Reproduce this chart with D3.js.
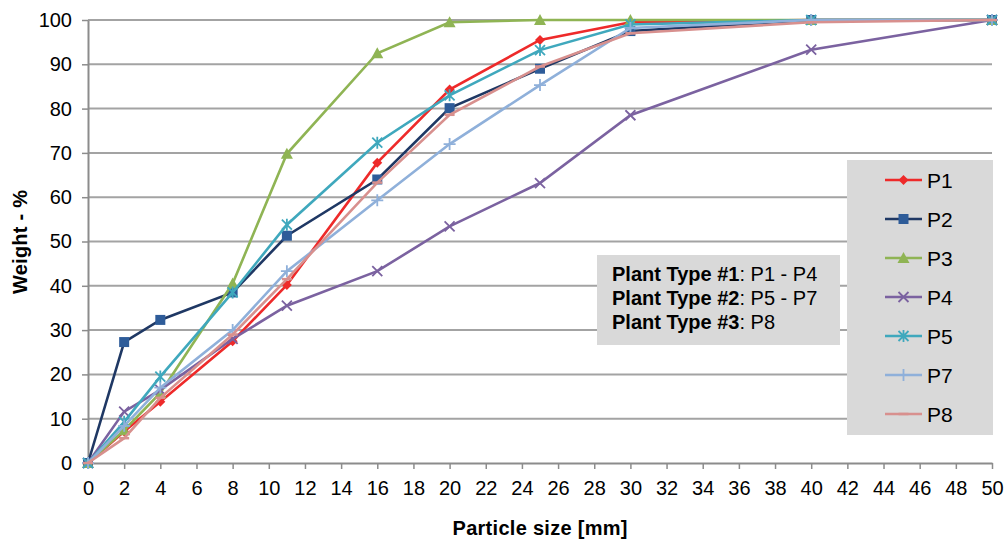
<!doctype html>
<html>
<head>
<style type="text/css">
body { margin: 0; background: white; }
text { font-family: "Liberation Sans", Arial, sans-serif; fill: black; }
.axis-title { font-size: 20px; font-weight: bold; }
</style>
</head>
<body>
<svg width="1006" height="543"></svg>
<script src="https://d3js.org/d3.v7.min.js"></script>
<script>
var sizes = [0, 2, 4, 8, 11, 16, 20, 25, 30, 40, 50];
var names = ["P1", "P2", "P3", "P4", "P5", "P7", "P8"];
var p1 = [0, 7.1, 13.8, 27.5, 40.2, 67.8, 84.3, 95.5, 99.5, 100, 100];
var p2 = [0, 27.3, 32.3, 38.5, 51.3, 64, 80.1, 89, 97.5, 100, 100];
var p3 = [0, 7.4, 15.8, 40.5, 69.8, 92.5, 99.5, 100, 100, 100, 100];
var p4 = [0, 11.6, 16.5, 28, 35.5, 43.3, 53.4, 63.2, 78.5, 93.3, 100];
var p5 = [0, 9.3, 19.5, 38.5, 53.8, 72.3, 83, 93.2, 99, 100, 100];
var p7 = [0, 8.4, 17, 30, 43.3, 59.3, 72, 85.3, 98.2, 100, 100];
var p8 = [0, 5.6, 14.7, 29, 41.5, 63.3, 78.6, 89.5, 97, 99.5, 100];
var seriesValues = [p1, p2, p3, p4, p5, p7, p8];
var xTicks = d3.range(0, 51, 2);
var yTicks = d3.range(0, 101, 10);
var notes = [["Plant Type #1", ": P1 - P4"], ["Plant Type #2", ": P5 - P7"], ["Plant Type #3", ": P8"]];

var lineColors = ["#ee2a2a", "#1f3864", "#8fb454", "#7b62a0", "#3fa8bd", "#8fb0da", "#d8908e"];
var markColors = ["#ee2a2a", "#2e5c99", "#8fb454", "#7b62a0", "#3fa8bd", "#8fb0da", "#d8908e"];
var shapes = ["diamond", "square", "triangle", "x", "star", "plus", "dash"];

var svg = d3.select("svg");
var x = d3.scaleLinear().domain([0, 50]).range([88, 992]);
var y = d3.scaleLinear().domain([0, 100]).range([463, 20]);

// grid
svg.append("g").selectAll("line").data(yTicks.slice(1)).enter().append("line")
  .attr("x1", x(0)).attr("x2", x(50))
  .attr("y1", function(d) { return y(d); }).attr("y2", function(d) { return y(d); })
  .attr("stroke", "#a3a3a3").attr("stroke-width", 2);

var xAxis = svg.append("g").attr("transform", "translate(0," + y(0) + ")")
  .call(d3.axisBottom(x).tickValues(xTicks).tickSize(6).tickPadding(12).tickSizeOuter(0));
var yAxis = svg.append("g").attr("transform", "translate(" + x(0) + ",0)")
  .call(d3.axisLeft(y).tickValues(yTicks).tickSize(6).tickPadding(10).tickSizeOuter(0));
[xAxis, yAxis].forEach(function(a) {
  a.select(".domain").attr("stroke", "#8c8c8c").attr("stroke-width", 2);
  a.selectAll(".tick line").attr("stroke", "#8c8c8c").attr("stroke-width", 1.5);
  a.selectAll(".tick text").attr("fill", "#111").style("font-family", "Liberation Sans, Arial, sans-serif").style("font-size", "20px");
});

svg.append("text").attr("class", "axis-title").attr("x", 540).attr("y", 535)
  .attr("text-anchor", "middle").attr("textLength", 175).text("Particle size [mm]");
svg.append("text").attr("class", "axis-title").attr("transform", "translate(27,242) rotate(-90)")
  .attr("text-anchor", "middle").attr("textLength", 104).text("Weight - %");

function drawMarker(g, shape, color, cx, cy) {
  var s = 5;
  if (shape === "diamond") {
    g.append("path").attr("d", "M" + cx + "," + (cy - s) + "L" + (cx + s) + "," + cy + "L" + cx + "," + (cy + s) + "L" + (cx - s) + "," + cy + "Z").attr("fill", color);
  } else if (shape === "square") {
    g.append("rect").attr("x", cx - s).attr("y", cy - s).attr("width", 2 * s).attr("height", 2 * s).attr("fill", color);
  } else if (shape === "triangle") {
    g.append("path").attr("d", "M" + cx + "," + (cy - s - 1) + "L" + (cx + s + 1) + "," + (cy + s) + "L" + (cx - s - 1) + "," + (cy + s) + "Z").attr("fill", color);
  } else if (shape === "x") {
    g.append("path").attr("d", "M" + (cx - s) + "," + (cy - s) + "L" + (cx + s) + "," + (cy + s) + "M" + (cx + s) + "," + (cy - s) + "L" + (cx - s) + "," + (cy + s)).attr("stroke", color).attr("stroke-width", 1.8);
  } else if (shape === "star") {
    g.append("path").attr("d", "M" + (cx - s) + "," + (cy - s) + "L" + (cx + s) + "," + (cy + s) + "M" + (cx + s) + "," + (cy - s) + "L" + (cx - s) + "," + (cy + s) + "M" + cx + "," + (cy - s - 1) + "L" + cx + "," + (cy + s + 1)).attr("stroke", color).attr("stroke-width", 1.8);
  } else if (shape === "plus") {
    g.append("path").attr("d", "M" + cx + "," + (cy - s - 1) + "L" + cx + "," + (cy + s + 1) + "M" + (cx - s - 1) + "," + cy + "L" + (cx + s + 1) + "," + cy).attr("stroke", color).attr("stroke-width", 1.8);
  } else {
    g.append("path").attr("d", "M" + (cx - s) + "," + cy + "L" + (cx + s) + "," + cy).attr("stroke", color).attr("stroke-width", 2.5);
  }
}

var line = d3.line().x(function(d, i) { return x(sizes[i]); }).y(function(d) { return y(d); });
seriesValues.forEach(function(vals, k) {
  var g = svg.append("g");
  g.append("path").datum(vals).attr("d", line).attr("fill", "none")
    .attr("stroke", lineColors[k]).attr("stroke-width", 2.6);
  vals.forEach(function(v, i) { drawMarker(g, shapes[k], markColors[k], x(sizes[i]), y(v)); });
});

// annotation box
var ann = svg.append("g");
ann.append("rect").attr("x", 597).attr("y", 255).attr("width", 243).attr("height", 90).attr("fill", "#d9d9d9");
notes.forEach(function(n, i) {
  var t = ann.append("text").attr("x", 612).attr("y", 281 + i * 24).style("font-size", "20px");
  t.append("tspan").style("font-weight", "bold").text(n[0]);
  t.append("tspan").text(n[1]);
});

// legend
var leg = svg.append("g");
leg.append("rect").attr("x", 847).attr("y", 160).attr("width", 146).attr("height", 275).attr("fill", "#d9d9d9");
names.forEach(function(nm, k) {
  var cy = 180 + k * 39;
  leg.append("line").attr("x1", 885).attr("x2", 922).attr("y1", cy).attr("y2", cy)
    .attr("stroke", lineColors[k]).attr("stroke-width", 2.6);
  drawMarker(leg, shapes[k], markColors[k], 903.5, cy);
  leg.append("text").attr("x", 927).attr("y", cy + 7.5).style("font-size", "21px").text(nm);
});
</script>
</body>
</html>
